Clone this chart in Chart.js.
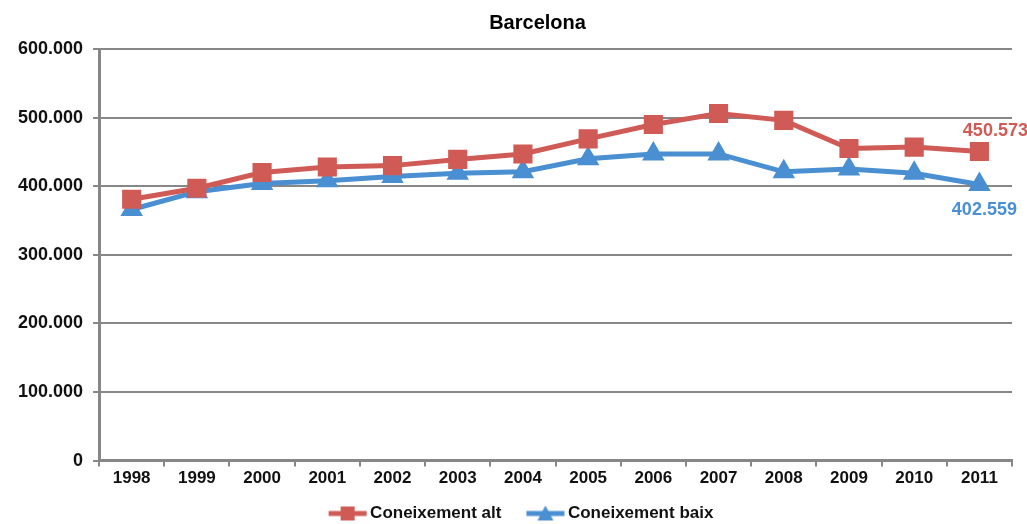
<!DOCTYPE html>
<html>
<head>
<meta charset="utf-8">
<script src="https://cdn.jsdelivr.net/npm/chart.js@4"></script>
<style>
    html, body { margin: 0; padding: 0; background: #fff; }
    #wrap { width: 1027px; height: 524px; }
</style>
</head>
<body>
<div id="wrap"><canvas id="chart"></canvas></div>
<script>
const years = ['1998', '1999', '2000', '2001', '2002', '2003', '2004', '2005', '2006', '2007', '2008', '2009', '2010', '2011'];
const altValues = [381000, 397000, 420000, 428000, 430000, 439000, 447000, 469000, 490000, 506000, 496000, 455000, 457000, 450573];
const baixValues = [366000, 392000, 404000, 408000, 414000, 419000, 421000, 440000, 447000, 447000, 421000, 425000, 419000, 402559];
const seriesNames = ['Coneixement alt', 'Coneixement baix'];
const chartTitle = 'Barcelona';

const RED = '#d05b56';
const BLUE = '#4a8fd2';
const GRID = '#878787';
const FONT = 'Liberation Sans, Arial, sans-serif';

function fmt(v) {
    return Math.round(v).toString().replace(/\B(?=(\d{3})+(?!\d))/g, '.');
}

// legend icon: line with marker, pushed to the right so it sits close to the text
function legendIcon(color, shape) {
    const c = document.createElement('canvas');
    c.width = 70; c.height = 16;
    const ctx = c.getContext('2d');
    const x0 = 29, x1 = 67, mid = (x0 + x1) / 2;
    ctx.strokeStyle = color;
    ctx.lineWidth = 5;
    ctx.beginPath(); ctx.moveTo(x0, 8); ctx.lineTo(x1, 8); ctx.stroke();
    ctx.fillStyle = color;
    ctx.beginPath();
    if (shape === 'rect') {
        ctx.rect(mid - 7, 1, 14, 14);
    } else {
        ctx.moveTo(mid, 0); ctx.lineTo(mid + 8, 15); ctx.lineTo(mid - 8, 15); ctx.closePath();
    }
    ctx.fill();
    return c;
}

// title (sits a bit left of plot centre in the original) and end-value labels
const extras = {
    id: 'extras',
    afterDatasetsDraw(chart) {
        const ctx = chart.ctx;
        const area = chart.chartArea;
        ctx.save();
        ctx.fillStyle = '#000';
        ctx.font = 'bold 20px ' + FONT;
        ctx.textAlign = 'center';
        ctx.textBaseline = 'middle';
        ctx.fillText(chartTitle, (area.left + area.right) / 2 - 18, 23);

        ctx.font = 'bold 18px ' + FONT;
        chart.data.datasets.forEach((ds, i) => {
            const meta = chart.getDatasetMeta(i);
            const pt = meta.data[meta.data.length - 1];
            const v = ds.data[ds.data.length - 1];
            ctx.fillStyle = ds.borderColor;
            if (i === 0) {
                ctx.fillText(fmt(v), pt.x + 16, pt.y - 20);
            } else {
                ctx.fillText(fmt(v), pt.x + 5, pt.y + 26);
            }
        });
        ctx.restore();
    }
};

new Chart(document.getElementById('chart'), {
    type: 'line',
    data: {
        labels: years,
        datasets: [
            {
                label: seriesNames[0],
                data: altValues,
                borderColor: RED,
                backgroundColor: RED,
                borderWidth: 5,
                pointStyle: 'rect',
                pointRadius: 10,
                pointHoverRadius: 10,
                tension: 0
            },
            {
                label: seriesNames[1],
                data: baixValues,
                borderColor: BLUE,
                backgroundColor: BLUE,
                borderWidth: 5,
                pointStyle: 'triangle',
                pointRadius: 8,
                pointHoverRadius: 8,
                tension: 0
            }
        ]
    },
    plugins: [extras],
    options: {
        responsive: true,
        maintainAspectRatio: false,
        animation: false,
        layout: { padding: { left: 8, right: 14, top: 49, bottom: -8 } },
        plugins: {
            title: { display: false },
            legend: {
                position: 'bottom',
                labels: {
                    color: '#111',
                    font: { family: FONT, size: 17, weight: 'bold' },
                    usePointStyle: true,
                    pointStyleWidth: 54,
                    padding: 4,
                    generateLabels(chart) {
                        return chart.data.datasets.map((ds, i) => ({
                            text: ds.label,
                            fillStyle: ds.borderColor,
                            strokeStyle: ds.borderColor,
                            fontColor: '#111',
                            pointStyle: legendIcon(ds.borderColor, ds.pointStyle),
                            datasetIndex: i,
                            hidden: false
                        }));
                    }
                }
            },
            tooltip: { enabled: false }
        },
        scales: {
            x: {
                offset: true,
                afterFit(scale) { scale.height += 10; },
                grid: {
                    offset: true,
                    drawOnChartArea: false,
                    color: GRID,
                    lineWidth: 2,
                    tickLength: 6
                },
                border: { color: GRID, width: 3 },
                ticks: {
                    color: '#111',
                    font: { family: FONT, size: 17, weight: 'bold' },
                    padding: 2,
                    maxRotation: 0
                }
            },
            y: {
                min: 0,
                max: 600000,
                grid: {
                    color: GRID,
                    lineWidth: 2,
                    tickLength: 6
                },
                border: { color: GRID, width: 3 },
                ticks: {
                    stepSize: 100000,
                    color: '#111',
                    font: { family: FONT, size: 18, weight: 'bold' },
                    padding: 10,
                    callback: v => fmt(v)
                }
            }
        }
    }
});
</script>
</body>
</html>
